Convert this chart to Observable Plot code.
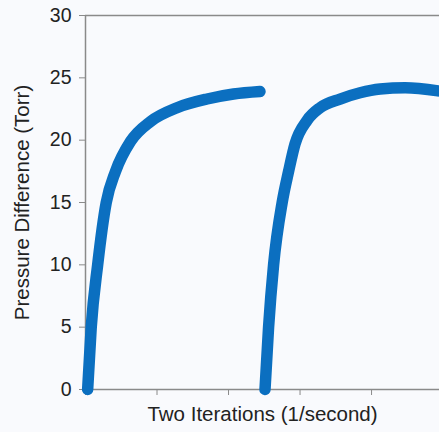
<!DOCTYPE html>
<html>
<head>
<meta charset="utf-8">
<script src="https://cdn.jsdelivr.net/npm/d3@7"></script>
<script src="https://cdn.jsdelivr.net/npm/@observablehq/plot@0.6"></script>
<style>
  html, body { margin: 0; padding: 0; background: #f9fafd; }
  svg { display: block; }
</style>
</head>
<body>
<div id="chart"></div>
<script>
// Iteration 1 (x in tick units, y in Torr)
const run1X = [0.03, 0.08, 0.17, 0.29, 0.42, 0.63, 0.91, 1.28, 1.70, 2.07, 2.44];
const run1Y = [0, 5, 10, 15, 17.5, 19.9, 21.5, 22.6, 23.3, 23.7, 23.9];
// Iteration 2
const run2X = [2.51, 2.56, 2.63, 2.75, 2.84, 2.93, 3.10, 3.28, 3.56, 3.84, 4.12, 4.47, 4.93];
const run2Y = [0, 5, 10, 15, 17.5, 19.7, 21.6, 22.6, 23.3, 23.8, 24.1, 24.2, 23.95];
const yTicks = [0, 5, 10, 15, 20, 25, 30];
const xTicks = [0, 1, 2, 3, 4];
const xLabel = "Two Iterations (1/second)";
const yLabel = "Pressure Difference (Torr)";

const run1 = run1X.map((x, i) => ({x, y: run1Y[i], run: 1}));
const run2 = run2X.map((x, i) => ({x, y: run2Y[i], run: 2}));
const color = "#0b6fc0";
const axisColor = "#8a8a8a";

const chart = Plot.plot({
  width: 439,
  height: 432,
  marginLeft: 85,
  marginTop: 15,
  marginBottom: 43,
  marginRight: 0,
  style: {fontFamily: "'Liberation Sans', Arial, sans-serif", fontSize: "19px", background: "#f9fafd", color: "#222"},
  x: {domain: [0, 4.95]},
  y: {domain: [0, 30]},
  marks: [
    Plot.ruleY([30], {stroke: axisColor, strokeWidth: 1.5}),
    Plot.axisY({ticks: yTicks, tickSize: 6, tickPadding: 8, stroke: axisColor, label: null, fontSize: 19.5, fill: "#222"}),
    Plot.axisX({ticks: xTicks, tickSize: 6, tickFormat: () => "", stroke: axisColor, label: null}),
    Plot.ruleX([0], {stroke: axisColor, strokeWidth: 1.5}),
    Plot.ruleY([0], {stroke: axisColor, strokeWidth: 1.5}),
    Plot.line(run1, {x: "x", y: "y", stroke: color, strokeWidth: 11.5, curve: "monotone-x", strokeLinecap: "round"}),
    Plot.line(run2, {x: "x", y: "y", stroke: color, strokeWidth: 11.5, curve: "monotone-x", strokeLinecap: "round"}),
    Plot.text([xLabel], {frameAnchor: "bottom", dy: 31, fill: "#222", fontSize: 20.5, textAnchor: "middle"}),
    Plot.text([yLabel], {frameAnchor: "left", dx: -63, rotate: -90, fill: "#222", fontSize: 20.5, textAnchor: "middle"})
  ]
});
document.getElementById("chart").append(chart);
</script>
</body>
</html>
